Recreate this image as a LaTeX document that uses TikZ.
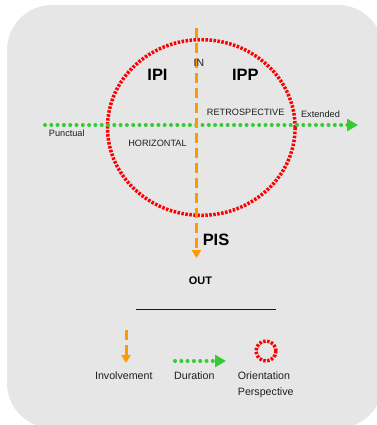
\documentclass[tikz,border=0pt]{standalone}
\usepackage{fontspec}
\setmainfont{Liberation Sans}
\usetikzlibrary{arrows.meta,shapes.geometric}
\definecolor{bggray}{RGB}{230,230,230}
\definecolor{invorange}{RGB}{255,153,0}
\definecolor{durgreen}{RGB}{51,204,51}
\definecolor{perred}{RGB}{255,0,0}
\definecolor{lineblue}{RGB}{0,0,204}
\begin{document}
\begin{tikzpicture}[x=1bp,y=-1bp,
  involve/.style={draw=invorange, line width=3bp, dash pattern=on 10bp off 5bp, -{Triangle[length=8bp,width=9bp]}},
  duration/.style={draw=durgreen, line width=4bp, line cap=round, dash pattern=on 0bp off 6.3bp, -{Triangle[length=11bp,width=12bp]}},
  persp/.style={draw=perred, line width=3.5bp, dash pattern=on 2.5bp off 1.5bp, ellipse, inner sep=0pt, outer sep=0pt},
  lbl/.style={inner sep=0pt, anchor=base, font=\fontsize{9.2}{11}\selectfont, text=black!88},
  big/.style={inner sep=0pt, anchor=base, font=\fontsize{16.5}{18}\selectfont\bfseries},
  leg/.style={inner sep=0pt, anchor=base, font=\fontsize{10.7}{16}\selectfont, text=black!88}]
\useasboundingbox (0,0) rectangle (377,425);
\fill[bggray, rounded corners=45bp] (7,5) rectangle (383,428);

% orientation perspective
\node[persp, minimum width=187.6bp, minimum height=175.6bp] (orientation) at (201.3,127.5) {};

% duration axis
\coordinate (punct) at (45,125);
\coordinate (ext) at (358,125);
\draw[duration] (punct) -- (ext);

% involvement axis
\coordinate (intop) at (196.5,28);
\coordinate (outtip) at (196.5,258);
\draw[involve] (intop) -- (outtip);

% labels
\node[inner sep=0pt, anchor=base west, font=\fontsize{10.5}{12}\selectfont, text=black!88] (in) at (193.5,66.7) {IN};
\node[big] (ipi) at (157.5,80.7) {IPI};
\node[big] (ipp) at (245.3,80.7) {IPP};
\node[lbl] (retro) at (245.7,115.5) {RETROSPECTIVE};
\node[lbl] (extended) at (320.5,117) {Extended};
\node[lbl] (punctual) at (66.8,136) {Punctual};
\node[lbl] (horiz) at (157.5,146) {HORIZONTAL};
\node[big] (pis) at (216,245) {PIS};
\node[inner sep=0pt, anchor=base, font=\fontsize{11}{13}\selectfont\bfseries] (out) at (200.5,284) {OUT};

% separator
\coordinate (sepL) at (136,309.3);
\coordinate (sepR) at (276,309.3);
\draw[lineblue, line width=1bp] (sepL) -- (sepR);

% legend
\coordinate (leginvtop) at (126,330);
\coordinate (leginvtip) at (126,363);
\draw[involve] (leginvtop) -- (leginvtip);
\coordinate (legdurL) at (175,361);
\coordinate (legdurR) at (226,361);
\draw[duration] (legdurL) -- (legdurR);
\node[persp, minimum width=20bp, minimum height=20bp] (legorient) at (266,351) {};

\node[leg] (involvement) at (123.8,379) {Involvement};
\node[leg] (durationlbl) at (194.3,379) {Duration};
\node[leg, anchor=base west] (orientlbl) at (237.7,379) {Orientation};
\node[leg, anchor=base west] (persplbl) at (237.7,395) {Perspective};
\end{tikzpicture}
\end{document}
